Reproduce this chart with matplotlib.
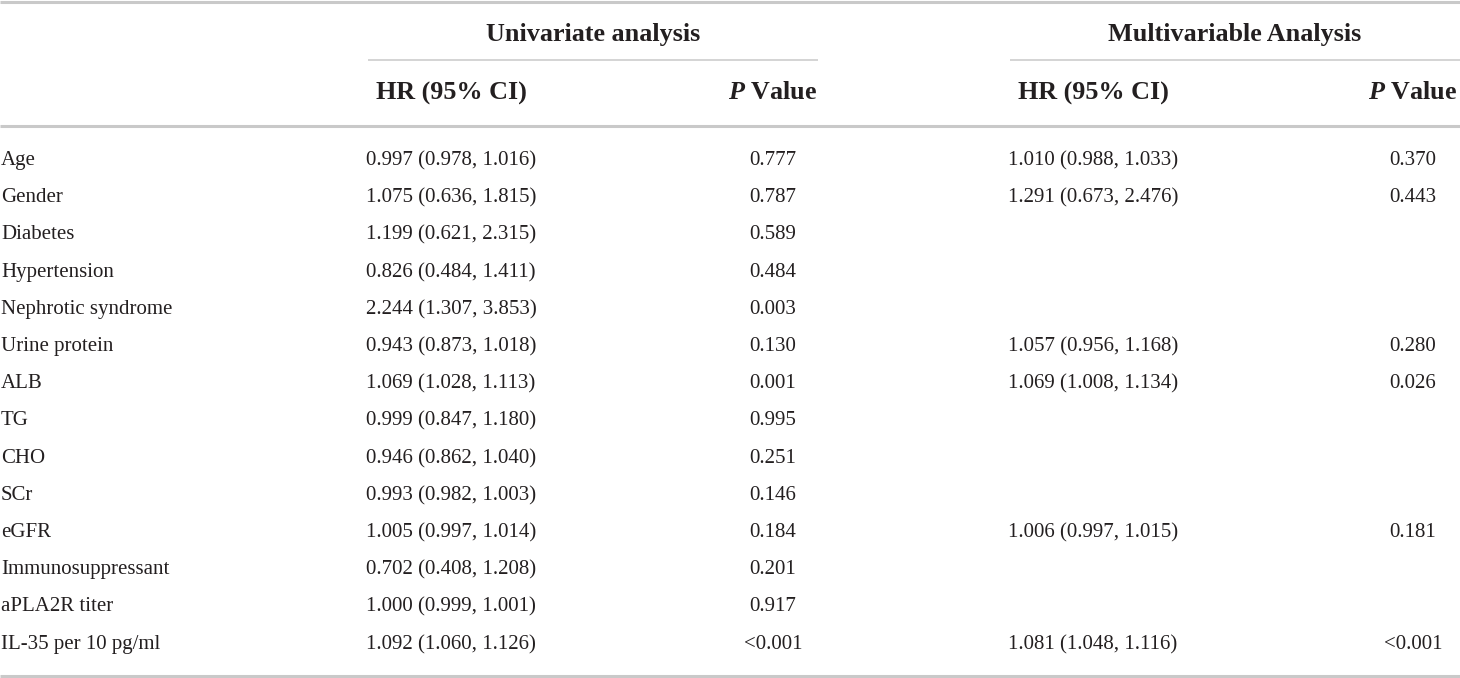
import matplotlib
matplotlib.use("Agg")
import matplotlib.pyplot as plt

# table contents
variables = ["Age", "Gender", "Diabetes", "Hypertension", "Nephrotic syndrome",
             "Urine protein", "ALB", "TG", "CHO", "SCr", "eGFR",
             "Immunosuppressant", "aPLA2R titer", "IL-35 per 10 pg/ml"]
uni_hr = ["0.997 (0.978, 1.016)", "1.075 (0.636, 1.815)", "1.199 (0.621, 2.315)",
          "0.826 (0.484, 1.411)", "2.244 (1.307, 3.853)", "0.943 (0.873, 1.018)",
          "1.069 (1.028, 1.113)", "0.999 (0.847, 1.180)", "0.946 (0.862, 1.040)",
          "0.993 (0.982, 1.003)", "1.005 (0.997, 1.014)", "0.702 (0.408, 1.208)",
          "1.000 (0.999, 1.001)", "1.092 (1.060, 1.126)"]
uni_p = ["0.777", "0.787", "0.589", "0.484", "0.003", "0.130", "0.001", "0.995",
         "0.251", "0.146", "0.184", "0.201", "0.917", "<0.001"]
multi_hr = ["1.010 (0.988, 1.033)", "1.291 (0.673, 2.476)", "", "", "",
            "1.057 (0.956, 1.168)", "1.069 (1.008, 1.134)", "", "", "",
            "1.006 (0.997, 1.015)", "", "", "1.081 (1.048, 1.116)"]
multi_p = ["0.370", "0.443", "", "", "", "0.280", "0.026", "", "", "",
           "0.181", "", "", "<0.001"]
groups = ["Univariate analysis", "Multivariable Analysis"]

plt.rcParams['font.family'] = ['Liberation Serif', 'DejaVu Serif']
plt.rcParams['mathtext.fontset'] = 'custom'
plt.rcParams['mathtext.it'] = 'Liberation Serif:italic:bold'
plt.rcParams['mathtext.rm'] = 'Liberation Serif:bold'

W, H = 1460, 678
fig = plt.figure(figsize=(W / 100, H / 100), dpi=100)
ax = fig.add_axes([0, 0, 1, 1])
ax.set_xlim(0, W)
ax.set_ylim(H, 0)
ax.axis('off')

txt = '#231f20'
line_c = '#c9c9c9'
body_fs = 15.0
head_fs = 18.8

# column layout (pixels)
label_x = 1
hr_x = [451, 1093]
p_x = [773, 1413]
spans = [(368, 818), (1010, 1460)]

# rules
ax.plot([0, W], [1.5, 1.5], color=line_c, lw=2.2, solid_capstyle='butt')
ax.plot([0, W], [125.5, 125.5], color=line_c, lw=2.2, solid_capstyle='butt')
ax.plot([0, W], [675.5, 675.5], color=line_c, lw=2.2, solid_capstyle='butt')
for (x0, x1) in spans:
    ax.plot([x0, x1], [59.5, 59.5], color=line_c, lw=1.1, solid_capstyle='butt')

# headers
for g, (x0, x1) in zip(groups, spans):
    ax.text((x0 + x1) / 2, 41, g, ha='center', va='baseline',
            fontsize=head_fs, fontweight='bold', color=txt)
for i in range(2):
    ax.text(hr_x[i], 100, "HR (95% CI)", ha='center', va='baseline',
            fontsize=head_fs, fontweight='bold', color=txt)
    ax.text(p_x[i], 99, r"$P$ Value", ha='center', va='baseline',
            fontsize=head_fs, fontweight='bold', color=txt)

# body
y0, dy = 165, 37.2
for i, name in enumerate(variables):
    y = round(y0 + dy * i)
    ax.text(label_x, y, name, ha='left', va='baseline', fontsize=body_fs, color=txt)
    ax.text(hr_x[0], y, uni_hr[i], ha='center', va='baseline', fontsize=body_fs, color=txt)
    ax.text(p_x[0], y, uni_p[i], ha='center', va='baseline', fontsize=body_fs, color=txt)
    ax.text(hr_x[1], y, multi_hr[i], ha='center', va='baseline', fontsize=body_fs, color=txt)
    ax.text(p_x[1], y, multi_p[i], ha='center', va='baseline', fontsize=body_fs, color=txt)

fig.savefig("out.png", dpi=100, facecolor='white')
